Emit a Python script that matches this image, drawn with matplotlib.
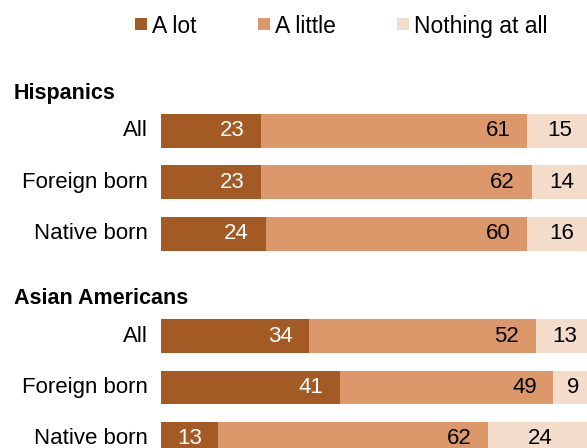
import matplotlib
matplotlib.use("Agg")
import matplotlib.pyplot as plt
from matplotlib.patches import Rectangle

plt.rcParams["font.family"] = ["Liberation Sans", "DejaVu Sans"]

groups = ["Hispanics", "Asian Americans"]
rows = ["All", "Foreign born", "Native born"]
a_lot = [[23, 23, 24], [34, 41, 13]]
a_little = [[61, 62, 60], [52, 49, 62]]
nothing = [[15, 14, 16], [13, 9, 24]]
legend_labels = ["A lot", "A little", "Nothing at all"]

colors = ["#A45A25", "#DC976A", "#F4DCCB"]
text_colors = ["white", "black", "black"]

fig = plt.figure(figsize=(5.87, 4.48), dpi=100)
ax = fig.add_axes([161 / 587, 0, 1 - 161 / 587, 1])
ax.set_xlim(0, (587 - 161) / 4.36)
ax.set_ylim((448 - 131) / 51.3, -131 / 51.3)
ax.axis("off")

fs = 16
for g, name in enumerate(groups):
    base = g * 4
    ax.text(-147 / 4.36, base - 0.78, name, ha="left", va="center_baseline",
            fontsize=15.5, fontweight="bold")
    for r, label in enumerate(rows):
        y = base + r
        vals = [a_lot[g][r], a_little[g][r], nothing[g][r]]
        left = 0
        ax.text(-13 / 4.36, y, label, ha="right", va="center", fontsize=fs)
        for k, v in enumerate(vals):
            ax.barh(y, v, left=left, height=0.66, color=colors[k], linewidth=0)
            if k == 2 or (k == 0 and v < 20):
                ax.text(left + v / 2, y, str(v), ha="center", va="center",
                        fontsize=fs, color=text_colors[k])
            else:
                ax.annotate(str(v), (left + v, y), xytext=(-12, 0),
                            textcoords="offset points", ha="right", va="center",
                            fontsize=fs, color=text_colors[k])
            left += v

# legend
leg_x = [135, 258, 397]
for k, lab in enumerate(legend_labels):
    fig.patches.append(Rectangle((leg_x[k] / 587, 1 - 30 / 448), 12 / 587, 12 / 448,
                                 transform=fig.transFigure, color=colors[k], linewidth=0))
    fig.text((leg_x[k] + 17) / 587, 1 - 24 / 448, lab, ha="left", va="center_baseline",
             fontsize=16.5)

fig.savefig("out.png", dpi=100)
